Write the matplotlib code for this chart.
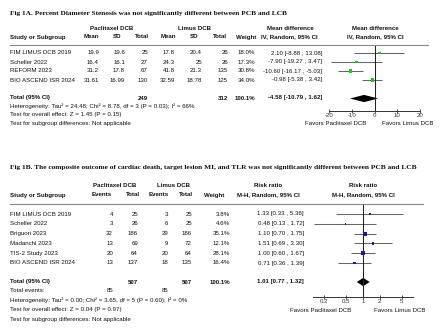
import numpy as np
import matplotlib
matplotlib.use("Agg")
import matplotlib.pyplot as plt

# ---------------------------------------------------------
# Data: Fig 1A (percent diameter stenosis, mean difference)
# ---------------------------------------------------------
studies_a = ["FIM LIMUS DCB 2019", "Scheller 2022", "REFORM 2023", "BIO ASCEND ISR 2024"]
pcb_mean_a = ["19.9", "16.4", "31.2", "31.61"]
pcb_sd_a = ["19.6", "16.1", "17.8", "16.99"]
pcb_n_a = [25, 27, 67, 130]
lcb_mean_a = ["17.8", "24.3", "41.8", "32.59"]
lcb_sd_a = ["20.4", "25", "21.3", "18.78"]
lcb_n_a = [26, 26, 135, 125]
weight_a = [18.0, 17.3, 30.8, 34.0]
md_a = [2.10, -7.90, -10.60, -0.98]
lo_a = [-8.88, -19.27, -16.17, -5.38]
hi_a = [13.08, 3.47, -5.03, 3.42]
tot_md_a, tot_lo_a, tot_hi_a = -4.58, -10.79, 1.62
ticks_a = [-20, -10, 0, 10, 20]

# ---------------------------------------------------------
# Data: Fig 1B (composite outcome, risk ratio)
# ---------------------------------------------------------
studies_b = ["FIM LIMUS DCB 2019", "Scheller 2022", "Briguori 2023", "Madanchi 2023",
             "TIS-2 Study 2023", "BIO ASCEND ISR 2024"]
pcb_ev_b = [4, 3, 32, 13, 20, 13]
pcb_n_b = [25, 26, 186, 69, 64, 137]
lcb_ev_b = [3, 6, 29, 9, 20, 18]
lcb_n_b = [25, 25, 186, 72, 64, 135]
weight_b = [3.8, 4.6, 35.1, 12.1, 28.1, 16.4]
rr_b = [1.33, 0.48, 1.10, 1.51, 1.00, 0.71]
lo_b = [0.33, 0.13, 0.70, 0.69, 0.60, 0.36]
hi_b = [5.36, 1.72, 1.75, 3.30, 1.67, 1.39]
tot_rr_b, tot_lo_b, tot_hi_b = 1.01, 0.77, 1.32
ticks_b = [0.2, 0.5, 1, 2, 5]

W, H = 440, 329
fig = plt.figure(figsize=(4.4, 3.29), dpi=100)
fig.patch.set_facecolor("white")

SANS = "Liberation Sans"
FS = 4.4
GREEN = "#22c322"
BLUE = "#1a1a9a"
GRAY = "#666666"


def txt(x, y, s, ha="left", bold=False, size=FS, family=SANS):
    # x, y in pixels from top-left
    fig.text(x / W, 1 - y / H, s, ha=ha, va="center", fontsize=size,
             fontweight="bold" if bold else "normal", family=family, color="#111111")


def hline(x0, x1, y):
    fig.add_artist(plt.Line2D([x0 / W, x1 / W], [1 - y / H, 1 - y / H],
                              color="#888888", lw=0.8, transform=fig.transFigure))


def forest_axes(x0, x1, y0, y1):
    return fig.add_axes([x0 / W, 1 - y1 / H, (x1 - x0) / W, (y1 - y0) / H])


def style_axis(ax):
    ax.set_yticks([])
    for side in ["top", "left", "right"]:
        ax.spines[side].set_visible(False)
    ax.spines["bottom"].set_linewidth(0.7)
    ax.spines["bottom"].set_color("#333333")
    ax.tick_params(axis="x", length=2.2, width=0.6, direction="inout", pad=0.6,
                   colors="#333333")
    ax.patch.set_alpha(0)


# ================= Fig 1A =================
txt(10, 13, "Fig 1A. Percent Diameter Stenosis was not significantly different between PCB and LCB",
    bold=True, size=5.3, family="Liberation Serif")

txt(112, 28, "Paclitaxel DCB", ha="center", bold=True)
txt(194, 28, "Limus DCB", ha="center", bold=True)
txt(290, 28, "Mean difference", ha="center", bold=True)
txt(375, 28, "Mean difference", ha="center", bold=True)
txt(10, 37, "Study or Subgroup", bold=True)
for xc, s in [(91, "Mean"), (117, "SD"), (142, "Total"), (168, "Mean"), (194, "SD"),
              (220, "Total"), (246, "Weight"), (289, "IV, Random, 95% CI"),
              (375, "IV, Random, 95% CI")]:
    txt(xc, 37, s, ha="center", bold=True)
hline(10, 428, 45)

row_a = 9.0
for i, name in enumerate(studies_a):
    y = 53 + i * row_a
    txt(10, y, name)
    txt(99, y, pcb_mean_a[i], ha="right")
    txt(125, y, pcb_sd_a[i], ha="right")
    txt(148, y, str(pcb_n_a[i]), ha="right")
    txt(175, y, lcb_mean_a[i], ha="right")
    txt(202, y, lcb_sd_a[i], ha="right")
    txt(228, y, str(lcb_n_a[i]), ha="right")
    txt(255, y, f"{weight_a[i]:.1f}%", ha="right")
    txt(322, y, f"{md_a[i]:.2f} [{lo_a[i]:.2f} , {hi_a[i]:.2f}]", ha="right")

y = 98
txt(10, y, "Total (95% CI)", bold=True)
txt(148, y, str(sum(pcb_n_a)), ha="right", bold=True)
txt(228, y, str(sum(lcb_n_a)), ha="right", bold=True)
txt(255, y, f"{sum(weight_a):.1f}%", ha="right", bold=True)
txt(322, y, f"{tot_md_a:.2f} [{tot_lo_a:.2f} , {tot_hi_a:.2f}]", ha="right", bold=True)
txt(10, 106, "Heterogeneity: Tau\u00b2 = 24.48; Chi\u00b2 = 8.78, df = 3 (P = 0.03); I\u00b2 = 66%")
txt(10, 114.5, "Test for overall effect: Z = 1.45 (P = 0.15)")
txt(10, 123, "Test for subgroup differences: Not applicable")

axA = forest_axes(329, 420, 45, 111)
idx = np.arange(len(studies_a))
axA.hlines(idx, lo_a, hi_a, color=GRAY, lw=0.75)
axA.scatter(md_a, idx, s=np.array(weight_a) * 0.18, marker="s", color=GREEN, zorder=3, lw=0)
ty = 5.05
axA.fill([tot_lo_a, tot_md_a, tot_hi_a, tot_md_a], [ty, ty - 0.4, ty, ty + 0.4],
         color="black", lw=0)
axA.axvline(0, color="#222222", lw=0.75)
axA.set_xlim(-20, 20)
axA.set_ylim(6.44, -0.9)
axA.set_xticks(ticks_a)
axA.set_xticklabels([str(t) for t in ticks_a], fontsize=FS, family=SANS)
style_axis(axA)
txt(336, 123, "Favors Paclitaxel DCB", ha="center")
txt(408, 123, "Favors Limus DCB", ha="center")

# ================= Fig 1B =================
txt(10, 168, "Fig 1B. The composite outcome of cardiac death, target lesion MI, and TLR was not "
    "significantly different between PCB and LCB", bold=True, size=5.3, family="Liberation Serif")

txt(115, 185, "Paclitaxel DCB", ha="center", bold=True)
txt(173, 185, "Limus DCB", ha="center", bold=True)
txt(268, 185, "Risk ratio", ha="center", bold=True)
txt(363, 185, "Risk ratio", ha="center", bold=True)
txt(10, 195, "Study or Subgroup", bold=True)
for xc, s in [(102, "Events"), (133, "Total"), (159, "Events"), (186, "Total"),
              (214, "Weight"), (268, "M-H, Random, 95% CI"), (363, "M-H, Random, 95% CI")]:
    txt(xc, 195, s, ha="center", bold=True)
hline(10, 423, 204)

row_b = 9.8
for i, name in enumerate(studies_b):
    y = 214 + i * row_b
    txt(10, y, name)
    txt(113, y, str(pcb_ev_b[i]), ha="right")
    txt(138, y, str(pcb_n_b[i]), ha="right")
    txt(168, y, str(lcb_ev_b[i]), ha="right")
    txt(192, y, str(lcb_n_b[i]), ha="right")
    txt(230, y, f"{weight_b[i]:.1f}%", ha="right")
    txt(304, y, f"{rr_b[i]:.2f} [{lo_b[i]:.2f} , {hi_b[i]:.2f}]", ha="right")

y = 282
txt(10, y, "Total (95% CI)", bold=True)
txt(138, y, str(sum(pcb_n_b)), ha="right", bold=True)
txt(192, y, str(sum(lcb_n_b)), ha="right", bold=True)
txt(230, y, f"{sum(weight_b):.1f}%", ha="right", bold=True)
txt(304, y, f"{tot_rr_b:.2f} [{tot_lo_b:.2f} , {tot_hi_b:.2f}]", ha="right", bold=True)
txt(10, 291, "Total events:")
txt(113, 291, str(sum(pcb_ev_b)), ha="right")
txt(168, 291, str(sum(lcb_ev_b)), ha="right")
txt(10, 300, "Heterogeneity: Tau\u00b2 = 0.00; Chi\u00b2 = 3.65, df = 5 (P = 0.60); I\u00b2 = 0%")
txt(10, 309, "Test for overall effect: Z = 0.04 (P = 0.97)")
txt(10, 319, "Test for subgroup differences: Not applicable")

axB = forest_axes(313, 413, 204, 297)
idx = np.arange(len(studies_b))
axB.hlines(idx, lo_b, hi_b, color=GRAY, lw=0.75)
axB.scatter(rr_b, idx, s=np.array(weight_b) * 0.24, marker="s", color=BLUE, zorder=3, lw=0)
ty = 6.94
axB.fill([tot_lo_b, tot_rr_b, tot_hi_b, tot_rr_b], [ty, ty - 0.42, ty, ty + 0.42],
         color="black", lw=0)
axB.axvline(1, color="#222222", lw=0.75)
axB.set_xscale("log")
axB.set_xlim(0.125, 8)
axB.set_ylim(8.47, -1.02)
axB.set_xticks(ticks_b)
axB.set_xticks([], minor=True)
axB.set_xticklabels([str(t) for t in ticks_b], fontsize=FS, family=SANS)
style_axis(axB)
txt(321, 310, "Favors Paclitaxel DCB", ha="center")
txt(400, 310, "Favors Limus DCB", ha="center")

fig.savefig("out.png", dpi=100, facecolor="white")
